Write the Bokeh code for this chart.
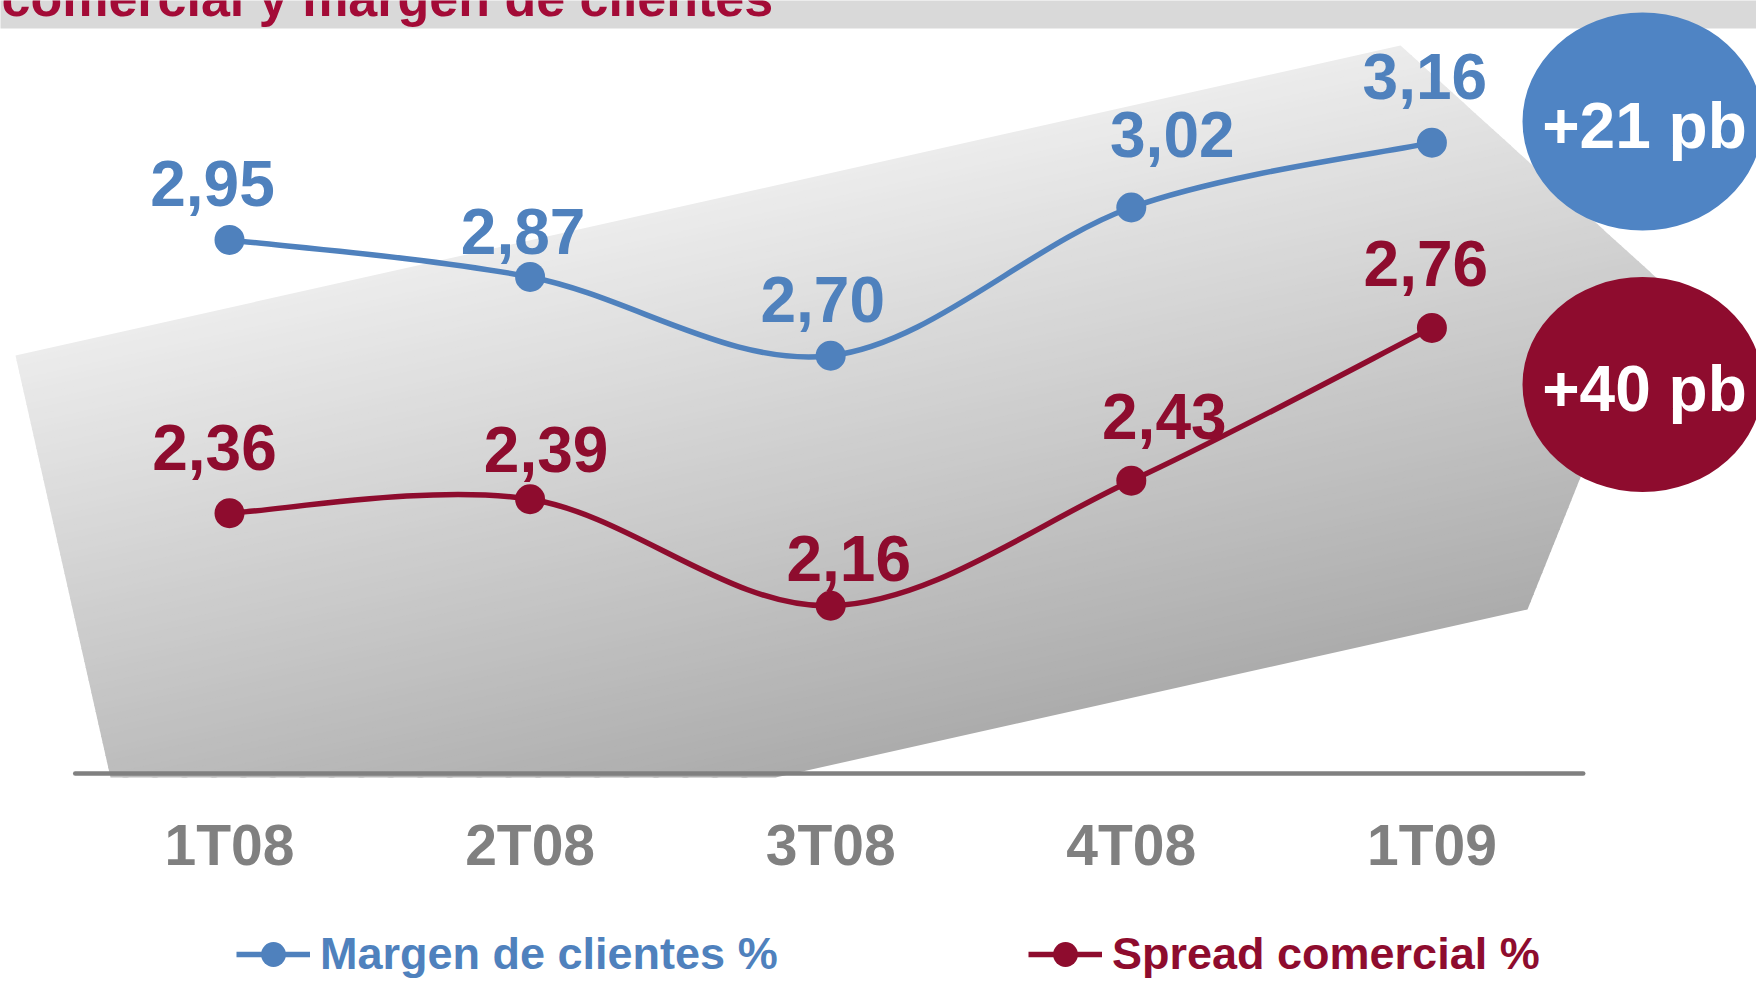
import numpy as np
from bokeh.plotting import figure
from bokeh.layouts import column
from bokeh.models import Range1d, ColumnDataSource, FixedTicker, Legend, LegendItem
from bokeh.core.properties import value
from bokeh.embed import file_html
from bokeh.resources import INLINE

# ---------------- data ----------------
categories = ["1T08", "2T08", "3T08", "4T08", "1T09"]
margen = [2.95, 2.87, 2.70, 3.02, 3.16]
spread = [2.36, 2.39, 2.16, 2.43, 2.76]
series_names = ["Margen de clientes %", "Spread comercial %"]
title_text = "comercial y margen de clientes"

# ---------------- style ----------------
BLUE = "#4f81bd"
RED = "#8e0c2e"
TITLE_RED = "#a30b37"
GREY_TXT = "#808080"
FONT = value("Liberation Sans")

# ---------------- layout calibration (page pixels) ----------------
W = 1756
H_TOP = 890
H_BOT = 91
FRAME_BOTTOM = 800
CAT_X0, CAT_DX = 229.0, 300.6                  # page x of first category, spacing
VAL_REF, VAL_Y, VAL_PX = 2.68, 364.44, 463.1   # value -> page y calibration
TXT_FIX = -19                                  # baseline correction for svg text

x_start = -CAT_X0 / CAT_DX
x_end = x_start + W / CAT_DX
y_top = VAL_REF + VAL_Y / VAL_PX
y_bot = y_top - FRAME_BOTTOM / VAL_PX


def fx(X):
    return x_start + X / CAT_DX


def fy(Y):
    return y_top - Y / VAL_PX


p = figure(width=W, height=H_TOP, output_backend="svg", toolbar_location=None,
           x_range=Range1d(x_start, x_end), y_range=Range1d(y_bot, y_top),
           x_axis_location="below", y_axis_location=None,
           min_border_left=0, min_border_right=0, min_border_top=0,
           min_border_bottom=H_TOP - FRAME_BOTTOM)
p.outline_line_color = None
p.background_fill_color = "white"
p.border_fill_color = "white"
p.grid.visible = False

# ---------------- title band ----------------
p.quad(left=[fx(-20)], right=[fx(1800)], top=[fy(-20)], bottom=[fy(28)],
       fill_color="#d9d9d9", line_color=None)
p.text(x=[fx(1)], y=[fy(16)], text=[title_text], y_offset=TXT_FIX, text_font=FONT,
       text_font_size="52px", text_font_style="bold", text_color=TITLE_RED,
       text_align="left", text_baseline="alphabetic")

# ---------------- gradient background shape ----------------
poly = np.array([(15, 355), (1400, 45), (1659, 280), (1527, 609),
                 (775, 777), (110, 777)], float)
nrm = np.array([0.218, 0.976])


def clip(pts, c, sign):
    out = []
    m = len(pts)
    for i in range(m):
        P, Q = pts[i], pts[(i + 1) % m]
        fp = sign * (P @ nrm - c)
        fq = sign * (Q @ nrm - c)
        if fp >= 0:
            out.append(P)
        if (fp >= 0) != (fq >= 0):
            t = fp / (fp - fq)
            out.append(P + t * (Q - P))
    return np.array(out)


proj = poly @ nrm
t0, t1 = proj.min(), proj.max()
NS = 90
edges = np.linspace(t0, t1, NS + 1)
sx, sy, cols = [], [], []
for k in range(NS):
    a = edges[k] - (0.0 if k == 0 else 1.2)
    b = edges[k + 1]
    part = clip(poly, a, 1)
    if len(part) < 3:
        continue
    part = clip(part, b, -1)
    if len(part) < 3:
        continue
    f = (0.5 * (edges[k] + edges[k + 1]) - t0) / (t1 - t0)
    g = int(round(236 - f * (236 - 172)))
    sx.append([fx(v) for v in part[:, 0]])
    sy.append([fy(v) for v in part[:, 1]])
    cols.append("#%02x%02x%02x" % (g, g, g))
p.patches(sx, sy, fill_color=cols, line_color=None)

# ---------------- axis line ----------------
p.segment(x0=[-0.5 - 4 / CAT_DX], y0=[fy(773)], x1=[len(categories) - 0.5 + 1 / CAT_DX],
          y1=[fy(773)], line_color="#808080", line_width=4.5, line_cap="round")

# ---------------- smoothed series lines ----------------
def bezier_source(vals):
    P = np.column_stack([np.arange(len(vals), dtype=float), np.array(vals, float)])
    Pe = np.vstack([P[0], P, P[-1]])
    d = dict(x0=[], y0=[], x1=[], y1=[], cx0=[], cy0=[], cx1=[], cy1=[])
    for i in range(len(P) - 1):
        p0, p1, p2, p3 = Pe[i], Pe[i + 1], Pe[i + 2], Pe[i + 3]
        c1 = p1 + (p2 - p0) / 6.0
        c2 = p2 - (p3 - p1) / 6.0
        d["x0"].append(p1[0]); d["y0"].append(p1[1])
        d["x1"].append(p2[0]); d["y1"].append(p2[1])
        d["cx0"].append(c1[0]); d["cy0"].append(c1[1])
        d["cx1"].append(c2[0]); d["cy1"].append(c2[1])
    return ColumnDataSource(d)


xi = list(range(len(categories)))
LW = 5.5
MS = 30

p.bezier(x0="x0", y0="y0", x1="x1", y1="y1", cx0="cx0", cy0="cy0", cx1="cx1", cy1="cy1",
         source=bezier_source(margen), line_color=BLUE, line_width=LW)
p.bezier(x0="x0", y0="y0", x1="x1", y1="y1", cx0="cx0", cy0="cy0", cx1="cx1", cy1="cy1",
         source=bezier_source(spread), line_color=RED, line_width=LW)
p.scatter(xi, margen, size=MS, fill_color=BLUE, line_color=None)
p.scatter(xi, spread, size=MS, fill_color=RED, line_color=None)

# ---------------- data labels ----------------
def fmt(v):
    return f"{v:.2f}".replace(".", ",")


lab_b = ColumnDataSource(dict(x=xi, y=margen, t=[fmt(v) for v in margen],
                              dx=[-17, -7, -8, 41, -7],
                              dy=[d + TXT_FIX for d in (-37, -26, -37, -54, -47)]))
lab_r = ColumnDataSource(dict(x=xi, y=spread, t=[fmt(v) for v in spread],
                              dx=[-15, 16, 18, 33, -6],
                              dy=[d + TXT_FIX for d in (-47, -31, -28, -45, -45)]))
for src, col in ((lab_b, BLUE), (lab_r, RED)):
    p.text(x="x", y="y", text="t", x_offset="dx", y_offset="dy", source=src,
           text_font=FONT, text_font_size="64px", text_font_style="bold",
           text_color=col, text_align="center", text_baseline="alphabetic")

# ---------------- change bubbles ----------------
d_margen = f"+{round((margen[-1] - margen[0]) * 100)} pb"
d_spread = f"+{round((spread[-1] - spread[0]) * 100)} pb"
p.ellipse(x=[fx(1642), fx(1642)], y=[fy(121), fy(384)],
          width=240 / CAT_DX, height=[218 / VAL_PX, 215 / VAL_PX],
          fill_color=["#4f84c4", RED], line_color=None)
p.text(x=[fx(1644), fx(1644)], y=[fy(121), fy(384)], text=[d_margen, d_spread],
       y_offset=23 + TXT_FIX, text_font=FONT, text_font_size="64px", text_font_style="bold",
       text_color="white", text_align="center", text_baseline="alphabetic")

# ---------------- x axis (category labels) ----------------
p.xaxis.ticker = FixedTicker(ticks=xi)
p.xaxis.major_label_overrides = {i: c for i, c in enumerate(categories)}
p.xaxis.axis_line_color = None
p.xaxis.major_tick_line_color = None
p.xaxis.minor_tick_line_color = None
p.xaxis.major_tick_out = 0
p.xaxis.major_tick_in = 0
p.xaxis.major_label_standoff = 12
p.xaxis.major_label_text_font = "Liberation Sans"
p.xaxis.major_label_text_font_size = "57px"
p.xaxis.major_label_text_font_style = "bold"
p.xaxis.major_label_text_color = GREY_TXT

# ---------------- legend strip ----------------
p2 = figure(width=W, height=H_BOT, output_backend="svg", toolbar_location=None,
            x_range=Range1d(0, 1), y_range=Range1d(0, 1),
            x_axis_location=None, y_axis_location=None,
            min_border_left=0, min_border_right=0, min_border_top=0, min_border_bottom=0)
p2.outline_line_color = None
p2.grid.visible = False
p2.background_fill_color = "white"
p2.border_fill_color = "white"

for (name, col, lx) in ((series_names[0], BLUE, 236), (series_names[1], RED, 1028)):
    lr = p2.line([-10, -9], [-10, -10], line_color=col, line_width=LW)
    sr = p2.scatter([-10], [-10], size=MS, fill_color=col, line_color=None)
    leg = Legend(items=[LegendItem(label=name, renderers=[lr, sr])], location=(lx, -4),
                 orientation="horizontal", glyph_width=74, glyph_height=62,
                 label_standoff=10, padding=0, margin=0, spacing=0,
                 border_line_color=None, background_fill_alpha=0,
                 label_text_font="Liberation Sans", label_text_font_size="45px",
                 label_text_font_style="bold", label_text_color=col)
    p2.add_layout(leg)

layout = column(p, p2, spacing=0)
open("out.html", "w").write(file_html(layout, INLINE))
